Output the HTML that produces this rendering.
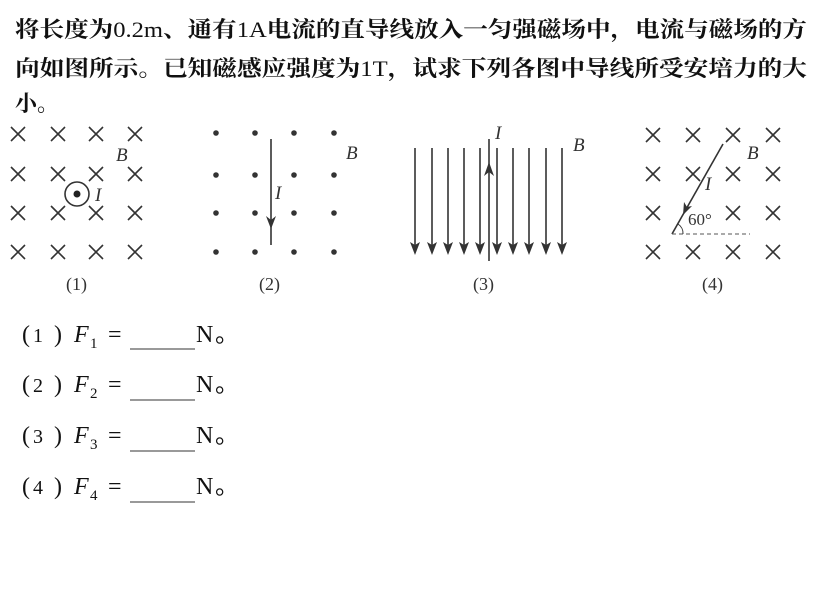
<!DOCTYPE html>
<html><head><meta charset="utf-8"><style>
body{margin:0;background:#fff;width:822px;height:614px;overflow:hidden}
svg{display:block}
.cj{font-family:"Liberation Serif","Noto Serif CJK SC",serif;font-weight:bold;font-size:22px;fill:#111}
.lt{font-weight:normal}
.it{font-family:"Liberation Serif",serif;font-style:italic;font-size:19px;fill:#333}
.lb{font-family:"Liberation Serif",serif;font-size:18px;fill:#333}
.ans{font-family:"Liberation Serif","Noto Sans CJK SC",serif;font-size:24px;fill:#111}
</style></head><body>
<svg width="822" height="614" viewBox="0 0 822 614">
<defs>
<g id="x"><path d="M-7,-7L7,7M7,-7L-7,7" stroke="#333" stroke-width="1.6"/></g>
<g id="dn"><line x1="0" y1="148" x2="0" y2="248" stroke="#333" stroke-width="1.6"/><path d="M-5,242L0,255L5,242L0,245z" fill="#333"/></g>
</defs>
<text class="cj" x="15" y="37" textLength="792" lengthAdjust="spacingAndGlyphs">将长度为<tspan class="lt">0.2m</tspan>、通有<tspan class="lt">1A</tspan>电流的直导线放入一匀强磁场中，电流与磁场的方</text>
<text class="cj" x="15" y="76" textLength="792" lengthAdjust="spacingAndGlyphs">向如图所示。已知磁感应强度为<tspan class="lt">1T</tspan>，试求下列各图中导线所受安培力的大</text>
<text class="cj" x="15" y="111">小。</text>

<!-- fig1 -->
<g>
<use href="#x" x="18" y="134"/><use href="#x" x="58" y="134"/><use href="#x" x="96" y="134"/><use href="#x" x="135" y="134"/>
<use href="#x" x="18" y="174"/><use href="#x" x="58" y="174"/><use href="#x" x="96" y="174"/><use href="#x" x="135" y="174"/>
<use href="#x" x="18" y="213"/><use href="#x" x="58" y="213"/><use href="#x" x="96" y="213"/><use href="#x" x="135" y="213"/>
<use href="#x" x="18" y="252"/><use href="#x" x="58" y="252"/><use href="#x" x="96" y="252"/><use href="#x" x="135" y="252"/>
<circle cx="77" cy="194" r="12" fill="#fff" stroke="#333" stroke-width="1.6"/>
<circle cx="77" cy="194" r="3.5" fill="#222"/>
<text class="it" x="116" y="161">B</text>
<text class="it" x="95" y="201">I</text>
<text class="lb" x="66" y="290">(1)</text>
</g>
<!-- fig2 -->
<g fill="#333">
<circle cx="216" cy="133" r="2.8"/><circle cx="255" cy="133" r="2.8"/><circle cx="294" cy="133" r="2.8"/><circle cx="334" cy="133" r="2.8"/>
<circle cx="216" cy="175" r="2.8"/><circle cx="255" cy="175" r="2.8"/><circle cx="294" cy="175" r="2.8"/><circle cx="334" cy="175" r="2.8"/>
<circle cx="216" cy="213" r="2.8"/><circle cx="255" cy="213" r="2.8"/><circle cx="294" cy="213" r="2.8"/><circle cx="334" cy="213" r="2.8"/>
<circle cx="216" cy="252" r="2.8"/><circle cx="255" cy="252" r="2.8"/><circle cx="294" cy="252" r="2.8"/><circle cx="334" cy="252" r="2.8"/>
<line x1="271" y1="139" x2="271" y2="245" stroke="#333" stroke-width="1.6"/>
<path d="M271,229L266,216L271,220L276,216z"/>
<text class="it" x="275" y="199">I</text>
<text class="it" x="346" y="159">B</text>
<text class="lb" x="259" y="290">(2)</text>
</g>
<!-- fig3 -->
<use href="#dn" x="415"/><use href="#dn" x="432"/><use href="#dn" x="448"/><use href="#dn" x="464"/><use href="#dn" x="480"/>
<use href="#dn" x="497"/><use href="#dn" x="513"/><use href="#dn" x="529"/><use href="#dn" x="546"/><use href="#dn" x="562"/>
<line x1="489" y1="139" x2="489" y2="261" stroke="#333" stroke-width="1.6"/>
<path d="M489,162L484,176L489,172L494,176z" fill="#333"/>
<text class="it" x="495" y="139">I</text>
<text class="it" x="573" y="151">B</text>
<text class="lb" x="473" y="290">(3)</text>
<!-- fig4 -->
<g>
<use href="#x" x="653" y="135"/><use href="#x" x="693" y="135"/><use href="#x" x="733" y="135"/><use href="#x" x="773" y="135"/>
<use href="#x" x="653" y="174"/><use href="#x" x="693" y="174"/><use href="#x" x="733" y="174"/><use href="#x" x="773" y="174"/>
<use href="#x" x="653" y="213"/><use href="#x" x="733" y="213"/><use href="#x" x="773" y="213"/>
<use href="#x" x="653" y="252"/><use href="#x" x="693" y="252"/><use href="#x" x="733" y="252"/><use href="#x" x="773" y="252"/>
<line x1="723" y1="144" x2="672" y2="234" stroke="#333" stroke-width="1.6"/>
<path d="M683,215L684,202L687,207L692,206z" fill="#333"/>
<line x1="672" y1="234" x2="750" y2="234" stroke="#555" stroke-width="1" stroke-dasharray="4,3"/>
<path d="M678,224A11,11 0 0 1 683,234" fill="none" stroke="#333" stroke-width="1"/>
<text class="lb" x="688" y="225" style="font-size:17px">60°</text>
<text class="it" x="747" y="159">B</text>
<text class="it" x="705" y="190">I</text>
<text class="lb" x="702" y="290">(4)</text>
</g>

<!-- answers -->
<g class="ans">
<text x="22" y="342">(</text><text x="33" y="342" font-size="20">1</text><text x="54" y="342">)</text>
<text x="74" y="342" font-style="italic">F</text><text x="90" y="348" font-size="15">1</text><text x="108" y="342">=</text><text x="196" y="342">N</text><text x="215" y="342">。</text>
<text x="22" y="392">(</text><text x="33" y="392" font-size="20">2</text><text x="54" y="392">)</text>
<text x="74" y="392" font-style="italic">F</text><text x="90" y="398" font-size="15">2</text><text x="108" y="392">=</text><text x="196" y="392">N</text><text x="215" y="392">。</text>
<text x="22" y="443">(</text><text x="33" y="443" font-size="20">3</text><text x="54" y="443">)</text>
<text x="74" y="443" font-style="italic">F</text><text x="90" y="449" font-size="15">3</text><text x="108" y="443">=</text><text x="196" y="443">N</text><text x="215" y="443">。</text>
<text x="22" y="494">(</text><text x="33" y="494" font-size="20">4</text><text x="54" y="494">)</text>
<text x="74" y="494" font-style="italic">F</text><text x="90" y="500" font-size="15">4</text><text x="108" y="494">=</text><text x="196" y="494">N</text><text x="215" y="494">。</text>
</g>
<g stroke="#333" stroke-width="1">
<line x1="130" y1="349" x2="195" y2="349"/>
<line x1="130" y1="400" x2="195" y2="400"/>
<line x1="130" y1="451" x2="195" y2="451"/>
<line x1="130" y1="502" x2="195" y2="502"/>
</g>
</svg>
</body></html>
